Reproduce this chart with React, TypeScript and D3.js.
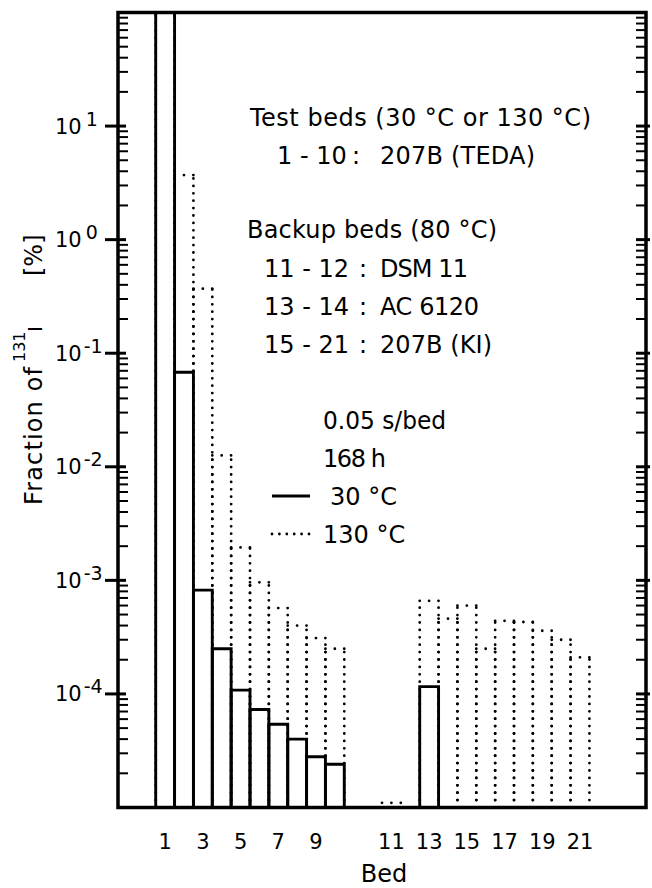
import React from "react";
import * as d3 from "d3";

// ---- data ----
const beds: number[] = [1, 2, 3, 4, 5, 6, 7, 8, 9, 10, 11, 12, 13, 14, 15, 16, 17, 18, 19, 20, 21];
// fraction of 131I [%] at 30 °C (solid)
const frac30: (number | null)[] = [
  100, 0.068, 8.2e-4, 2.5e-4, 1.08e-4, 7.3e-5, 5.4e-5, 4.0e-5, 2.8e-5, 2.4e-5,
  null, null, 1.16e-4, null, null, null, null, null, null, null, null,
];
// fraction of 131I [%] at 130 °C (dotted)
const frac130: (number | null)[] = [
  100, 3.7, 0.37, 1.26e-2, 1.95e-3, 9.6e-4, 5.7e-4, 4.0e-4, 3.1e-4, 2.5e-4,
  1.1e-5, null, 6.6e-4, 4.6e-4, 6.0e-4, 2.5e-4, 4.4e-4, 4.3e-4, 3.6e-4, 3.0e-4, 2.1e-4,
];
const yTickExps: number[] = [1, 0, -1, -2, -3, -4];
const xTickBeds: number[] = [1, 3, 5, 7, 9, 11, 13, 15, 17, 19, 21];

const W = 652;
const H = 888;
const FONT = "DejaVu Sans";

export default function App() {
  const L = 118, R = 646, T = 12.5, B = 807.5;
  const x = d3.scaleLinear().domain([0, 28]).range([L, R]);
  const y = d3.scaleLog().domain([1e-5, 1e2]).range([B, T]).clamp(true);
  const slot = (b: number) => (b <= 10 ? b + 1 : b + 3);

  const minor: number[] = [];
  for (let e = -5; e <= 1; e++) for (let k = 2; k <= 9; k++) minor.push(k * Math.pow(10, e));

  const dotted: JSX.Element[] = [];
  beds.forEach((b, i) => {
    const v = frac130[i];
    if (v == null) return;
    const x0 = x(slot(b)), x1 = x(slot(b) + 1), yt = y(v);
    dotted.push(
      <g key={"d" + b}>
        <path d={`M${x0},${B}V${yt}`} />
        <path d={`M${x1},${B}V${yt}`} />
        <path d={`M${x0},${yt}H${x1}`} strokeDasharray="0 9.4" />
      </g>
    );
  });

  const solid: JSX.Element[] = [];
  beds.forEach((b, i) => {
    const v = frac30[i];
    if (v == null) return;
    const x0 = x(slot(b)), x1 = x(slot(b) + 1), yt = y(v);
    solid.push(<path key={"s" + b} d={`M${x0},${B}V${yt}H${x1}V${B}`} />);
  });

  return (
    <svg
      width={W}
      height={H}
      viewBox={`0 0 ${W} ${H}`}
      style={{ position: "absolute", left: 0, top: 0, background: "#fff" }}
      fontFamily={FONT}
    >
      <rect x={0} y={0} width={W} height={H} fill="#fff" />
      {/* dotted 130 °C bars */}
      <g fill="none" stroke="#000" strokeWidth={2.8} strokeLinecap="round" strokeDasharray="0 7.4">
        {dotted}
      </g>
      {/* solid 30 °C bars */}
      <g fill="none" stroke="#000" strokeWidth={2.9} strokeLinejoin="miter">
        {solid}
      </g>
      {/* ticks */}
      <g stroke="#000" strokeWidth={2}>
        {minor.map((v, i) => (
          <g key={"m" + i}>
            <line x1={L} x2={L + 10} y1={y(v)} y2={y(v)} />
            <line x1={R - 10} x2={R} y1={y(v)} y2={y(v)} />
          </g>
        ))}
        {yTickExps.map((e) => (
          <g key={"M" + e} strokeWidth={3}>
            <line x1={105} x2={L + 8} y1={y(Math.pow(10, e))} y2={y(Math.pow(10, e))} />
            <line x1={R - 10} x2={R + 4} y1={y(Math.pow(10, e))} y2={y(Math.pow(10, e))} />
          </g>
        ))}
      </g>
      {/* frame */}
      <rect x={L} y={T} width={R - L} height={B - T} fill="none" stroke="#000" strokeWidth={3.5} />
      {/* y tick labels */}
      <g fill="#000">
        {yTickExps.map((e) => (
          <text key={"yl" + e} x={55} y={y(Math.pow(10, e)) + 7.5} fontSize={21}>
            10
            <tspan dx={e >= 0 ? 4 : 2} dy={-8} fontSize={19}>
              {e < 0 ? "-" + Math.abs(e) : String(e)}
            </tspan>
          </text>
        ))}
      </g>
      {/* x tick labels */}
      <g fill="#000" fontSize={21} textAnchor="middle">
        {xTickBeds.map((b) => (
          <text key={"xl" + b} x={x(slot(b) + 0.5)} y={849}>
            {b}
          </text>
        ))}
      </g>
      <text x={384} y={882} fontSize={24} textAnchor="middle" fill="#000">
        Bed
      </text>
      {/* y axis title */}
      <g transform="translate(42,0) rotate(-90)" fill="#000">
        <text x={-505} y={0} fontSize={24} textLength={138} lengthAdjust="spacing">
          Fraction of
        </text>
        <text x={-362} y={-17} fontSize={16}>
          131
        </text>
        <text x={-332} y={0} fontSize={20}>
          I
        </text>
        <text x={-276} y={0} fontSize={24}>
          [%]
        </text>
      </g>
      {/* annotation block */}
      <g fill="#000" fontSize={24}>
        <text x={250} y={126} textLength={341} lengthAdjust="spacing">Test beds (30 °C or 130 °C)</text>
        <text x={277} y={164}>1 - 10</text>
        <text x={356} y={164} textAnchor="middle">:</text>
        <text x={380} y={164} textLength={155} lengthAdjust="spacing">207B (TEDA)</text>
        <text x={247} y={238} textLength={250} lengthAdjust="spacing">Backup beds (80 °C)</text>
        <text x={264} y={277}>11 - 12</text>
        <text x={363} y={277} textAnchor="middle">:</text>
        <text x={380} y={277} textLength={88} lengthAdjust="spacing">DSM 11</text>
        <text x={264} y={315}>13 - 14</text>
        <text x={363} y={315} textAnchor="middle">:</text>
        <text x={380} y={315} textLength={99} lengthAdjust="spacing">AC 6120</text>
        <text x={264} y={353}>15 - 21</text>
        <text x={363} y={353} textAnchor="middle">:</text>
        <text x={380} y={353} textLength={112} lengthAdjust="spacing">207B (KI)</text>
        <text x={323} y={429} textLength={123} lengthAdjust="spacingAndGlyphs">0.05 s/bed</text>
        <text x={323} y={467} textLength={63} lengthAdjust="spacing">168 h</text>
        <text x={330} y={505}>30 °C</text>
        <text x={323} y={543}>130 °C</text>
      </g>
      <line x1={272} x2={310} y1={496} y2={496} stroke="#000" strokeWidth={3} />
      <line
        x1={272}
        x2={310}
        y1={534}
        y2={534}
        stroke="#000"
        strokeWidth={2.8}
        strokeLinecap="round"
        strokeDasharray="0 7.4"
      />
    </svg>
  );
}
